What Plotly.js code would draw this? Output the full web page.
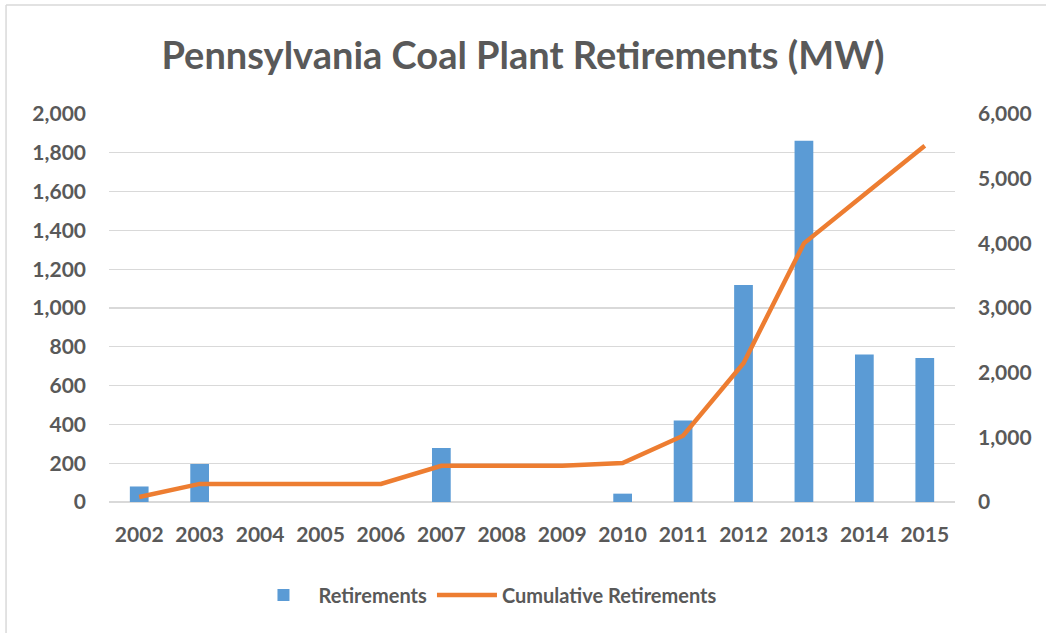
<!DOCTYPE html>
<html>
<head>
<meta charset="utf-8">
<script src="https://cdn.plot.ly/plotly-3.0.1.min.js"></script>
<style>
html,body{margin:0;padding:0;background:#fff;}
#chart{width:1046px;height:633px;}
</style>
</head>
<body>
<div id="chart"></div>
<script>
const years = ['2002','2003','2004','2005','2006','2007','2008','2009','2010','2011','2012','2013','2014','2015'];
const retirements = [80,196,0,0,0,278,0,0,43,420,1119,1862,760,742];
const cumulative = [78,280,280,280,280,560,560,560,602,1024,2145,4000,4755,5510];
const leftTicks = [0,200,400,600,800,1000,1200,1400,1600,1800,2000];
const rightTicks = [0,1000,2000,3000,4000,5000,6000];

const fmt = v => v.toLocaleString('en-US');
const textColor = '#595959';
const fontFam = 'Lato, "Open Sans", sans-serif';
const tickFont = {size: 21, color: textColor, family: fontFam, weight: 'bold'};

const traces = [
  {
    type: 'bar', name: 'Retirements', x: years, y: retirements,
    marker: {color: '#5B9BD5'}, width: 0.31, yaxis: 'y'
  },
  {
    type: 'scatter', mode: 'lines', name: 'Cumulative Retirements', x: years, y: cumulative,
    line: {color: '#ED7D31', width: 4.5, shape: 'linear'}, yaxis: 'y2'
  }
];

const layout = {
  width: 1046, height: 633,
  margin: {l: 109, r: 91, t: 114, b: 131},
  paper_bgcolor: '#fff', plot_bgcolor: '#fff',
  font: {family: fontFam, color: textColor},
  title: {
    text: '<b>Pennsylvania Coal Plant Retirements (MW)</b>',
    font: {size: 38, color: textColor, family: fontFam},
    x: 0.5, xanchor: 'center', y: 0.912, yanchor: 'middle'
  },
  showlegend: true,
  legend: {
    orientation: 'h', x: 0.445, xanchor: 'center', y: -0.24, yanchor: 'middle',
    font: {size: 20, color: textColor, family: fontFam, weight: 'bold'},
    itemwidth: 60
  },
  xaxis: {
    type: 'category', categoryarray: years,
    tickfont: tickFont,
    showgrid: false, zeroline: false, showline: false, ticks: '',
    ticklabelstandoff: 18
  },
  yaxis: {
    range: [0, 2000], tickvals: leftTicks, ticktext: leftTicks.map(fmt),
    tickfont: tickFont,
    showgrid: true, gridcolor: '#d9d9d9', gridwidth: 1.3,
    zeroline: true, zerolinecolor: '#d9d9d9', zerolinewidth: 1.3,
    showline: false, ticks: '', ticklabelstandoff: 22
  },
  yaxis2: {
    range: [0, 6000], tickvals: rightTicks, ticktext: rightTicks.map(fmt),
    overlaying: 'y', side: 'right',
    tickfont: tickFont,
    showgrid: false, zeroline: false, showline: false, ticks: '',
    ticklabelstandoff: 22
  },
  shapes: [
    {type: 'line', xref: 'paper', yref: 'paper', x0: -0.1217, x1: 1.2, y0: 1.281, y1: 1.281,
     line: {color: '#d9d9d9', width: 1.5}},
    {type: 'line', xref: 'paper', yref: 'paper', x0: -0.1217, x1: -0.1217, y0: 1.281, y1: -0.4,
     line: {color: '#d9d9d9', width: 1.5}}
  ]
};

Plotly.newPlot('chart', traces, layout, {displayModeBar: false, staticPlot: true});
</script>
</body>
</html>
